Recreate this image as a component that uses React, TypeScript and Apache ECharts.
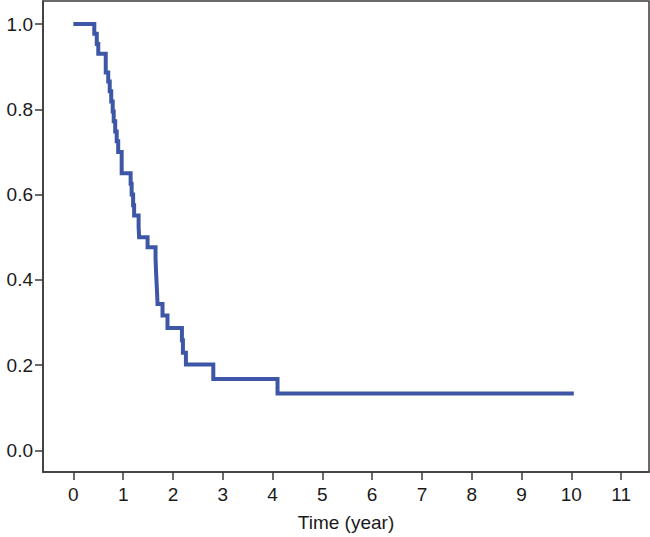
import React, { useEffect, useRef } from "react";
import * as echarts from "echarts";

const times = [0, 0.42, 0.47, 0.5, 0.65, 0.7, 0.73, 0.76, 0.79, 0.81, 0.84, 0.87, 0.9, 0.97, 1.15, 1.17, 1.2, 1.22, 1.31, 1.32, 1.49, 1.65, 1.66, 1.67, 1.68, 1.69, 1.79, 1.89, 2.18, 2.2, 2.26, 2.81, 4.1, 10.05];
const survival = [1.0, 0.977, 0.953, 0.93, 0.886, 0.865, 0.842, 0.818, 0.795, 0.772, 0.748, 0.725, 0.7, 0.65, 0.625, 0.6, 0.575, 0.551, 0.525, 0.5, 0.476, 0.45, 0.42, 0.395, 0.372, 0.343, 0.316, 0.287, 0.258, 0.229, 0.201, 0.167, 0.133, 0.133];
const xTicks = [0, 1, 2, 3, 4, 5, 6, 7, 8, 9, 10, 11];
const yTicks = [0, 0.2, 0.4, 0.6, 0.8, 1.0];
const xTitle = "Time (year)";

export default function App() {
  const ref = useRef<HTMLDivElement>(null);
  useEffect(() => {
    if (!ref.current) return;
    const chart = echarts.init(ref.current, null, { renderer: "svg" });
    const font = "'Liberation Sans', Arial, Helvetica, sans-serif";
    const axisColor = "#3a3a3a";
    chart.setOption({
      animation: false,
      backgroundColor: "#ffffff",
      grid: {
        left: 43,
        top: 1,
        right: 1,
        bottom: 63,
        show: true,
        borderColor: axisColor,
        borderWidth: 1.5,
        backgroundColor: "transparent",
      },
      xAxis: {
        type: "value",
        min: -0.61,
        max: 11.56,
        name: xTitle,
        nameLocation: "middle",
        nameGap: 41,
        nameTextStyle: { fontFamily: font, fontSize: 19, color: "#1a1a1a" },
        splitLine: { show: false },
        axisLine: { show: true, onZero: false, lineStyle: { color: axisColor, width: 1.5 } },
        axisTick: { show: true, customValues: xTicks, length: 8, lineStyle: { color: axisColor, width: 1.5 } },
        axisLabel: {
          customValues: xTicks,
          margin: 13,
          fontFamily: font,
          fontSize: 19,
          color: "#1a1a1a",
        },
      },
      yAxis: {
        type: "value",
        min: -0.051,
        max: 1.054,
        splitLine: { show: false },
        axisLine: { show: true, onZero: false, lineStyle: { color: axisColor, width: 1.5 } },
        axisTick: { show: true, customValues: yTicks, length: 8, lineStyle: { color: axisColor, width: 1.5 } },
        axisLabel: {
          customValues: yTicks,
          margin: 10,
          fontFamily: font,
          fontSize: 19,
          color: "#1a1a1a",
          formatter: (v: number) => v.toFixed(1),
        },
      },
      series: [
        {
          type: "line",
          step: "end",
          showSymbol: false,
          symbol: "none",
          data: times.map((t, i) => [t, survival[i]]),
          lineStyle: { color: "#3d56a6", width: 4, cap: "butt", join: "miter" },
        },
      ],
    });
    return () => chart.dispose();
  }, []);
  return (
    <div
      ref={ref}
      style={{ position: "fixed", left: 0, top: 0, width: 650, height: 537, background: "#fff" }}
    />
  );
}
